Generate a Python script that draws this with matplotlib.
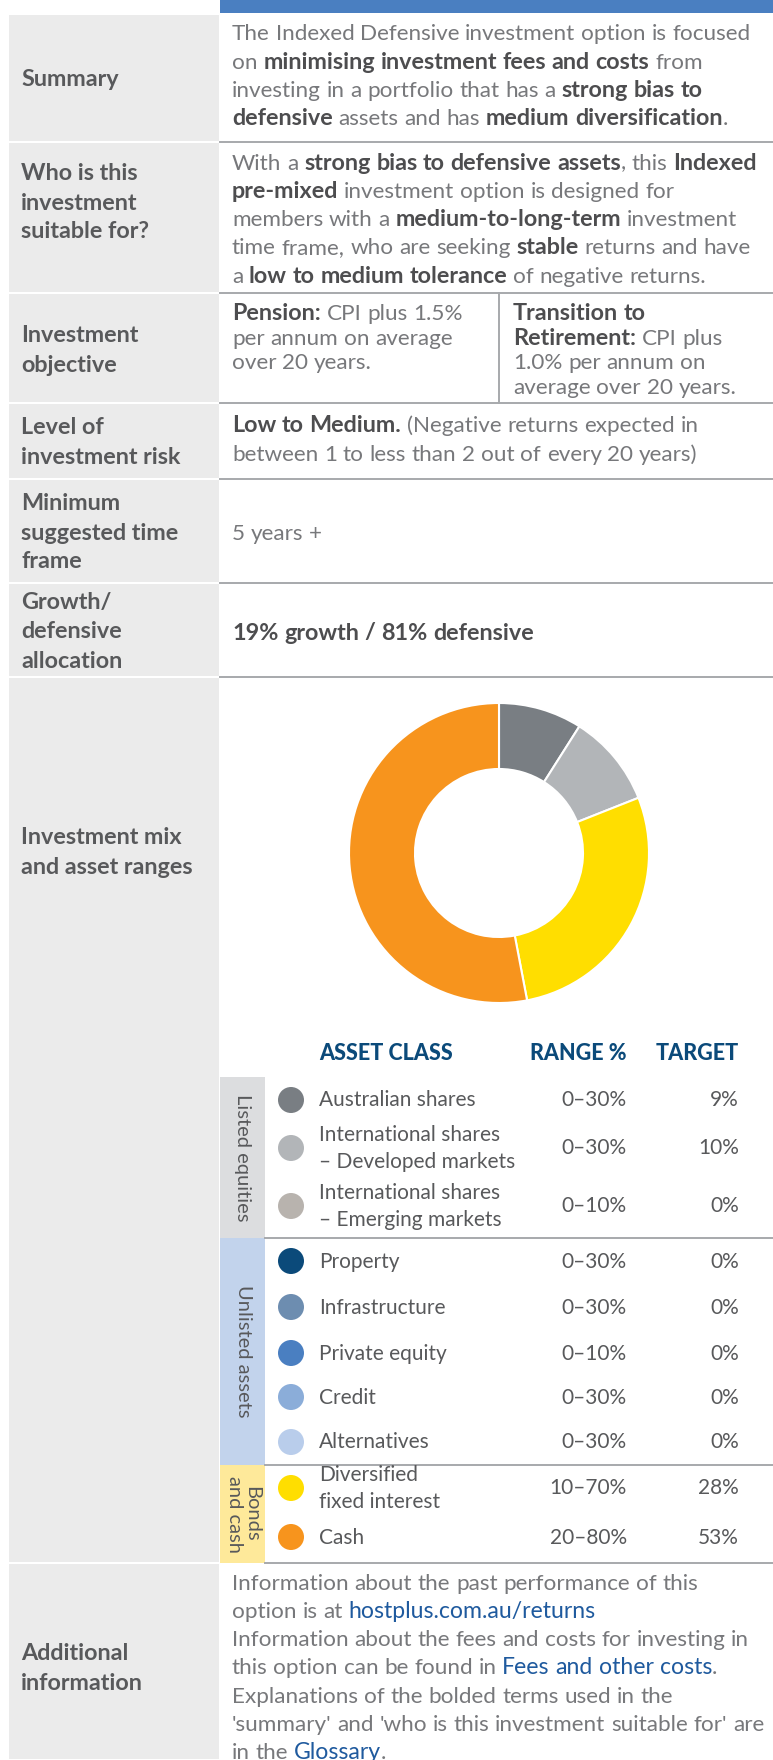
import re
import matplotlib
matplotlib.use("Agg")
import matplotlib.pyplot as plt
from matplotlib.patches import Rectangle, Circle

plt.rcParams['font.family'] = ['Lato', 'DejaVu Sans']

# ---------------- data ----------------
row_labels = ["Summary", "Who is this\ninvestment\nsuitable for?", "Investment\nobjective",
              "Level of\ninvestment risk", "Minimum\nsuggested time\nframe",
              "Growth/\ndefensive\nallocation", "Investment mix\nand asset ranges",
              "Additional\ninformation"]

summary_lines = [
    [("The Indexed Defensive investment option is focused", "n")],
    [("on ", "n"), ("minimising investment fees and costs", "b"), (" from", "n")],
    [("investing in a portfolio that has a ", "n"), ("strong bias to", "b")],
    [("defensive", "b"), (" assets and has ", "n"), ("medium diversification", "b"), (".", "n")],
]
who_lines = [
    [("With a ", "n"), ("strong bias to defensive assets", "b"), (", this ", "n"), ("Indexed", "b")],
    [("pre-mixed", "b"), (" investment option is designed for", "n")],
    [("members with a ", "n"), ("medium-to-long-term", "b"), (" investment", "n")],
    [("time frame, who are seeking ", "n"), ("stable", "b"), (" returns and have", "n")],
    [("a ", "n"), ("low to medium tolerance", "b"), (" of negative returns.", "n")],
]
pension_lines = [
    [("Pension:", "b"), (" CPI plus 1.5%", "n")],
    [("per annum on average", "n")],
    [("over 20 years.", "n")],
]
ttr_lines = [
    [("Transition to", "b")],
    [("Retirement:", "b"), (" CPI plus", "n")],
    [("1.0% per annum on", "n")],
    [("average over 20 years.", "n")],
]
risk_lines = [
    [("Low to Medium.", "b"), (" (Negative returns expected in", "n")],
    [("between 1 to less than 2 out of every 20 years)", "n")],
]
timeframe_lines = [[("5 years +", "n")]]
growth_lines = [[("19% growth / 81% defensive", "b")]]
additional_lines = [
    [("Information about the past performance of this", "n")],
    [("option is at ", "n"), ("hostplus.com.au/returns", "l")],
    [("Information about the fees and costs for investing in", "n")],
    [("this option can be found in ", "n"), ("Fees and other costs", "l"), (".", "n")],
    [("Explanations of the bolded terms used in the", "n")],
    [("'summary' and 'who is this investment suitable for' are", "n")],
    [("in the ", "n"), ("Glossary", "l"), (".", "n")],
]

asset_names = ["Australian shares", "International shares\n– Developed markets",
               "International shares\n– Emerging markets", "Property", "Infrastructure",
               "Private equity", "Credit", "Alternatives", "Diversified\nfixed interest", "Cash"]
asset_ranges = ["0–30%", "0–30%", "0–10%", "0–30%", "0–30%", "0–10%", "0–30%", "0–30%",
                "10–70%", "20–80%"]
asset_targets = [9, 10, 0, 0, 0, 0, 0, 0, 28, 53]
asset_colors = ["#797e83", "#b2b5b8", "#b8b3ae", "#0b4a7a", "#6d8db0", "#4a7fc1",
                "#8badd9", "#b9cdeb", "#ffde00", "#f7941d"]
group_names = ["Listed equities", "Unlisted assets", "Bonds\nand cash"]
group_sizes = [3, 5, 2]
group_colors = ["#dcdddf", "#c2d3ec", "#fee99a"]

# ---------------- layout ----------------
W, H = 773, 1760
row_edges = [14, 142, 293, 403, 479, 583, 677, 1563, 1760]
label_y = [78, 173, 335, 427, 503, 602, 837, 1653]
LINE = 28.3
TXT = "#77787b"
BOLD = "#4d4d4f"
LINK = "#1f5a9e"
NAVY = "#0b4a7a"
GRID = "#a7a9ac"
LABEL = "#58595b"

fig = plt.figure(figsize=(W / 100, H / 100), dpi=100)
ax = fig.add_axes([0, 0, 1, 1])
ax.set_xlim(0, W)
ax.set_ylim(H, 0)
ax.axis("off")
renderer = fig.canvas.get_renderer()

styles = {
    "n": dict(color=TXT, fontweight="normal", fontsize=16.2),
    "b": dict(color=BOLD, fontweight="bold", fontsize=16.8),
    "l": dict(color=LINK, fontweight="normal", fontsize=16.6),
}


def text_width(s, st):
    t = ax.text(0, 0, s, fontsize=st["fontsize"], fontweight=st["fontweight"])
    w = t.get_window_extent(renderer).width
    t.remove()
    return w


space_cache = {}


def space_width(kind):
    if kind not in space_cache:
        st = styles[kind]
        space_cache[kind] = text_width("n n", st) - text_width("nn", st)
    return space_cache[kind]


def rich(x, y, lines, spacing=LINE):
    # y is the visual middle of the first line
    for i, parts in enumerate(lines):
        cx = x
        base = y + i * spacing + 7.5
        for text, kind in parts:
            st = styles[kind]
            for tok in re.split(r"( )", text):
                if tok == "":
                    continue
                if tok == " ":
                    cx += space_width(kind)
                    continue
                t = ax.text(cx, base, tok, va="baseline", ha="left", **st)
                cx += t.get_window_extent(renderer).width


# header bar
ax.add_patch(Rectangle((220, 0), W - 220, 13, color="#4a7fc1", lw=0))

# left label cells and row lines
for i, lab in enumerate(row_labels):
    top, bot = row_edges[i], row_edges[i + 1]
    ax.add_patch(Rectangle((9, top + 1), 210, bot - top - 2, color="#ebebeb", lw=0))
    for j, line in enumerate(lab.split("\n")):
        ax.text(21, label_y[i] + j * 29 + 7.5, line, fontsize=16.8, fontweight="bold",
                color=LABEL, va="baseline", ha="left")
for e in row_edges[1:7]:
    ax.plot([220, W], [e, e], color=GRID, lw=1.4)
ax.plot([499, 499], [293, 403], color=GRID, lw=1.4)

# body text
rich(232, 33, summary_lines)
rich(232, 162, who_lines)
rich(232, 313, pension_lines, spacing=24.4)
rich(513, 313, ttr_lines, spacing=24.4)
rich(232, 425, risk_lines)
rich(232, 533, timeframe_lines)
rich(232, 632, growth_lines)
rich(232, 1582, additional_lines)

# donut
dax = fig.add_axes([(499 - 150) / W, 1 - (853 + 150) / H, 300 / W, 300 / H])
vals = [v for v in asset_targets if v > 0]
cols = [c for v, c in zip(asset_targets, asset_colors) if v > 0]
dax.pie(vals, colors=cols, startangle=90, counterclock=False,
        wedgeprops=dict(width=0.44, edgecolor="white", linewidth=1.5))
dax.set_xlim(-1, 1)
dax.set_ylim(-1, 1)
dax.set_aspect("equal")
dax.axis("off")

# asset table
hdr = dict(fontsize=15.5, fontweight="black", color=NAVY, va="center")
ax.text(319, 1054, "ASSET CLASS", **hdr)
ax.text(627, 1054, "RANGE %", ha="right", **hdr)
ax.text(739, 1054, "TARGET", ha="right", **hdr)

item_y = [1100, 1148, 1206, 1261, 1307, 1353, 1397, 1442, 1488, 1537]
group_edges = [1077, 1238, 1465, 1563]
cell = dict(fontsize=15, color=LABEL, va="baseline")
k = 0
for g, (gname, gsize, gcol) in enumerate(zip(group_names, group_sizes, group_colors)):
    top, bot = group_edges[g], group_edges[g + 1]
    ax.add_patch(Rectangle((220, top), 45, bot - top, color=gcol, lw=0))
    ax.text(243, (top + bot) / 2, gname, rotation=270, fontsize=14.5, color=LABEL,
            ha="center", va="center", linespacing=0.95, multialignment="center")
    ax.plot([265, W], [bot, bot], color=GRID, lw=1.4)
    for _ in range(gsize):
        yc = item_y[k]
        ax.add_patch(Circle((291, yc), 13, color=asset_colors[k], lw=0))
        lines = asset_names[k].split("\n")
        off = -13.5 * (len(lines) - 1)
        for j, line in enumerate(lines):
            ax.text(319, yc + off + 27 * j + 6.5, line, ha="left", **cell)
        ax.text(627, yc + 6.5, asset_ranges[k], ha="right", **cell)
        ax.text(739, yc + 6.5, f"{asset_targets[k]}%", ha="right", **cell)
        k += 1

fig.savefig("out.png", dpi=100)
